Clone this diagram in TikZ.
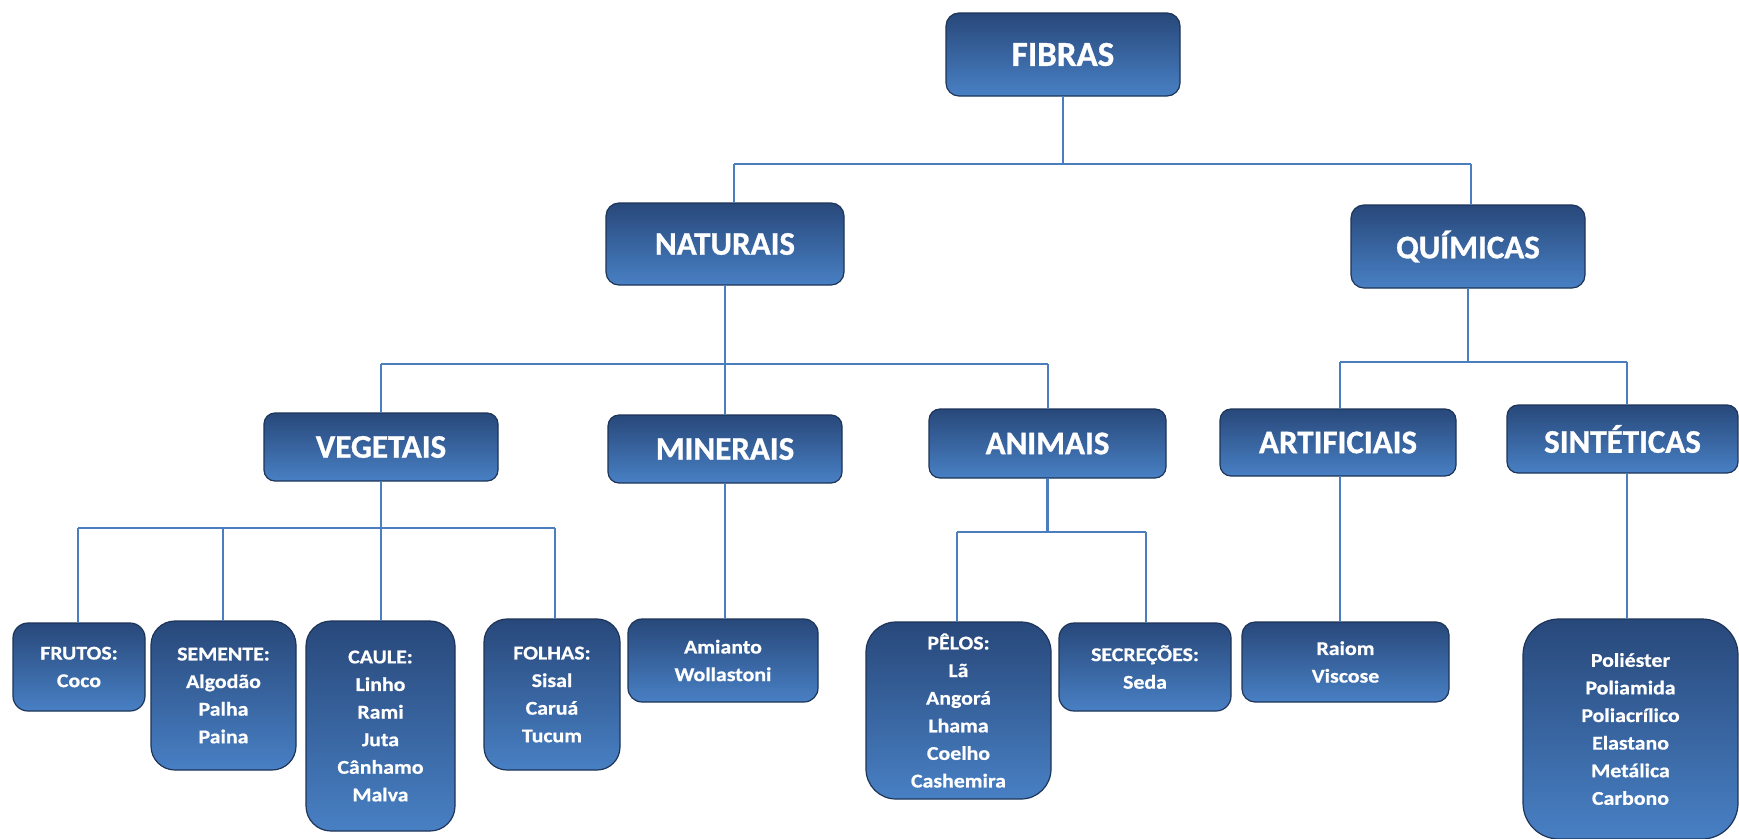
\documentclass[tikz,border=0pt]{standalone}
\usepackage{fontspec}
\setmainfont{Carlito}
\newfontfamily\lffam{Carlito}[BoldFeatures={FakeStretch=1.12, FakeBold=0.7}]
\newfontfamily\mnfam{Carlito}[BoldFeatures={FakeBold=0.9}]
\newcommand\labfont{\mnfam\bfseries\fontsize{33}{38}\selectfont}
\newcommand\topfont{\mnfam\bfseries\fontsize{35}{40}\selectfont}
\newcommand\lffont{\lffam\bfseries\fontsize{19.5}{27.6}\selectfont}
\definecolor{boxtop}{RGB}{40,72,122}
\definecolor{boxbot}{RGB}{72,128,196}
\definecolor{boxborder}{RGB}{30,52,88}
\definecolor{linecol}{RGB}{74,126,190}
\tikzset{
  box/.style={draw=boxborder, line width=1.2pt, top color=boxtop, bottom color=boxbot,
    text=white, inner sep=0pt, outer sep=0pt, align=center},
  mainbox/.style={box, font=\labfont},
  topbox/.style={box, font=\topfont},
  leafbox/.style={box, font=\lffont},
  conn/.style={draw=linecol, line width=2.2pt}
}
% name, x1, y1, x2, y2, radius, style, text
\newcommand\bx[8]{%
  \node[#7, minimum width={(#4-#2)*1pt}, minimum height={(#5-#3)*1pt},
        rounded corners=#6pt] (#1) at ({(#2+#4)/2},{(#3+#5)/2}) {#8};}
\begin{document}
\begin{tikzpicture}[x=1pt,y=-1pt]
\useasboundingbox[fill=white] (0,0) rectangle (1739,838);

% level 0
\bx{fibras}{946}{13}{1180}{96}{13}{topbox}{FIBRAS}
% level 1
\bx{naturais}{606}{203}{844}{285}{13}{mainbox}{NATURAIS}
\bx{quimicas}{1351}{205}{1585}{288}{13}{mainbox}{QUÍMICAS}
% level 2
\bx{vegetais}{264}{413}{498}{481}{11}{mainbox}{VEGETAIS}
\bx{minerais}{608}{415}{842}{483}{11}{mainbox}{MINERAIS}
\bx{animais}{929}{409}{1166}{478}{11}{mainbox}{ANIMAIS}
\bx{artificiais}{1220}{409}{1456}{476}{11}{mainbox}{ARTIFICIAIS}
\bx{sinteticas}{1507}{405}{1738}{473}{11}{mainbox}{SINTÉTICAS}
% leaves
\bx{frutos}{13}{623}{145}{711}{15}{leafbox}{FRUTOS:\\Coco}
\bx{semente}{151}{621}{296}{770}{24}{leafbox}{SEMENTE:\\Algodão\\Palha\\Paina}
\bx{caule}{306}{621}{455}{831}{25}{leafbox}{CAULE:\\Linho\\Rami\\Juta\\Cânhamo\\Malva}
\bx{folhas}{484}{619}{620}{770}{23}{leafbox}{FOLHAS:\\Sisal\\Caruá\\Tucum}
\bx{amianto}{628}{619}{818}{702}{14}{leafbox}{Amianto\\Wollastoni}
\bx{pelos}{866}{622}{1051}{799}{30}{leafbox}{PÊLOS:\\Lã\\Angorá\\Lhama\\Coelho\\Cashemira}
\bx{secrecoes}{1059}{623}{1231}{711}{15}{leafbox}{SECREÇÕES:\\Seda}
\bx{raiom}{1242}{622}{1449}{702}{13}{leafbox}{Raiom\\Viscose}
\bx{sintleaf}{1523}{619}{1738}{839}{36}{leafbox}{Poliéster\\Poliamida\\Poliacrílico\\Elastano\\Metálica\\Carbono}

% bus coordinates
\coordinate (b1L) at (734,164);
\coordinate (b1R) at (1471,164);
\coordinate (b2L) at (381,364);
\coordinate (b2R) at (1048,364);
\coordinate (b3L) at (1340,362);
\coordinate (b3R) at (1627,362);
\coordinate (b4L) at (78,528);
\coordinate (b4B) at (223,528);
\coordinate (b4R) at (555,528);
\coordinate (b5L) at (957,532);
\coordinate (b5R) at (1146,532);

% FIBRAS
\draw[conn] (fibras.south) -- (fibras.south |- b1L);
\draw[conn] (b1L) -- (b1R);
\draw[conn] (b1L) -- (b1L |- naturais.north);
\draw[conn] (b1R) -- (b1R |- quimicas.north);
% NATURAIS
\draw[conn] (naturais.south) -- (naturais.south |- minerais.north);
\draw[conn] (b2L) -- (b2R);
\draw[conn] (b2L) -- (b2L |- vegetais.north);
\draw[conn] (b2R) -- (b2R |- animais.north);
% QUIMICAS
\draw[conn] (quimicas.south) -- (quimicas.south |- b3L);
\draw[conn] (b3L) -- (b3R);
\draw[conn] (b3L) -- (b3L |- artificiais.north);
\draw[conn] (b3R) -- (b3R |- sinteticas.north);
% VEGETAIS
\draw[conn] (vegetais.south) -- (vegetais.south |- b4L);
\draw[conn] (b4L) -- (b4R);
\draw[conn] (b4L) -- (b4L |- frutos.north);
\draw[conn] (b4B) -- (b4B |- semente.north);
\draw[conn] (vegetais.south |- b4L) -- (caule.north -| vegetais.south);
\draw[conn] (b4R) -- (b4R |- folhas.north);
% MINERAIS
\draw[conn] (minerais.south) -- (minerais.south |- amianto.north);
% ANIMAIS
\draw[conn] (animais.south) -- (animais.south |- b5L);
\draw[conn] (b5L) -- (b5R);
\draw[conn] (b5L) -- (b5L |- pelos.north);
\draw[conn] (b5R) -- (b5R |- secrecoes.north);
% ARTIFICIAIS
\draw[conn] (b3L |- artificiais.south) -- (b3L |- raiom.north);
% SINTETICAS
\draw[conn] (b3R |- sinteticas.south) -- (b3R |- sintleaf.north);
\end{tikzpicture}
\end{document}
